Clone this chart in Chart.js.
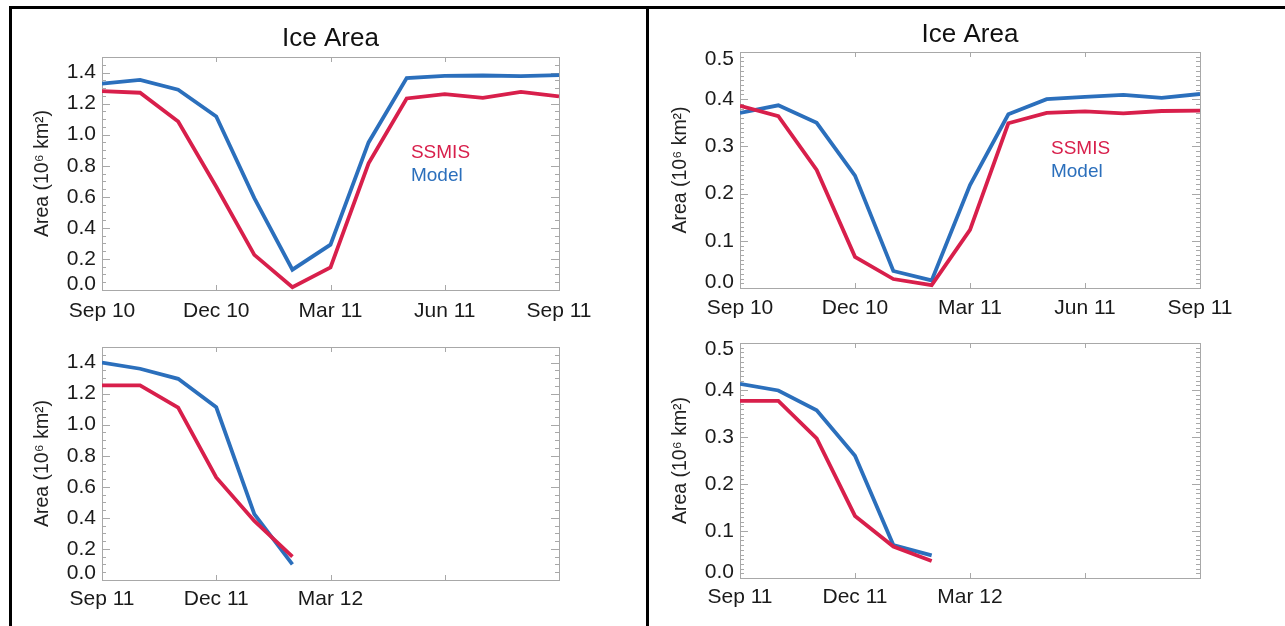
<!DOCTYPE html>
<html>
<head>
<meta charset="utf-8">
<script src="https://cdn.jsdelivr.net/npm/chart.js@4/dist/chart.umd.min.js"></script>
<style>
  html, body { margin: 0; padding: 0; background: #fff; }
  body { width: 1285px; height: 626px; position: relative; overflow: hidden; }
  canvas { position: absolute; left: 0; top: 0; }
  .rule { position: absolute; background: #000; }
</style>
</head>
<body>
<div class="rule" style="left:9px; top:6px; width:1276px; height:3px;"></div>
<div class="rule" style="left:9px; top:6px; width:3px; height:620px;"></div>
<div class="rule" style="left:646px; top:6px; width:3px; height:620px;"></div>
<canvas id="c1" width="1285" height="626"></canvas>
<canvas id="c2" width="1285" height="626"></canvas>
<canvas id="c3" width="1285" height="626"></canvas>
<canvas id="c4" width="1285" height="626"></canvas>
<script>
// ---------- data ----------
const monthIndex = [0, 1, 2, 3, 4, 5, 6, 7, 8, 9, 10, 11, 12];
const xTickPos = [0, 3, 6, 9, 12];
const xLabels2010 = ['Sep 10', 'Dec 10', 'Mar 11', 'Jun 11', 'Sep 11'];
const xLabels2011 = ['Sep 11', 'Dec 11', 'Mar 12', '', ''];

const yTicksBig = [0.0, 0.2, 0.4, 0.6, 0.8, 1.0, 1.2, 1.4];
const yTicksSmall = [0.0, 0.1, 0.2, 0.3, 0.4, 0.5];

// left panel (large region)
const ssmisBig2010 = [1.28, 1.27, 1.085, 0.665, 0.226, 0.018, 0.146, 0.815, 1.233, 1.261, 1.237, 1.276, 1.246];
const modelBig2010 = [1.329, 1.353, 1.289, 1.117, 0.592, 0.131, 0.292, 0.95, 1.364, 1.378, 1.381, 1.377, 1.383];
const ssmisBig2011 = [1.253, 1.253, 1.11, 0.66, 0.38, 0.15];
const modelBig2011 = [1.40, 1.36, 1.295, 1.112, 0.424, 0.10];

// right panel (small region)
const ssmisSmall2010 = [0.386, 0.364, 0.25, 0.066, 0.019, 0.006, 0.123, 0.349, 0.371, 0.374, 0.37, 0.375, 0.376];
const modelSmall2010 = [0.371, 0.387, 0.35, 0.238, 0.036, 0.016, 0.218, 0.368, 0.40, 0.405, 0.409, 0.403, 0.411];
const ssmisSmall2011 = [0.377, 0.377, 0.297, 0.132, 0.067, 0.036];
const modelSmall2011 = [0.413, 0.399, 0.357, 0.26, 0.07, 0.048];

const seriesNames = ['SSMIS', 'Model'];
// ---------- style ----------
const RED = '#d81f4b';
const BLUE = '#2b6fbc';
const FONT = '"Liberation Sans", Arial, Helvetica, sans-serif';
const AXIS_GRAY = '#a8a8a8';
const TICK_SIZE = 21;

const framePlugin = {
  id: 'frame',
  beforeDatasetsDraw(chart, args, opts) {
    const {ctx, chartArea: a, scales} = chart;
    const y = scales.y, x = scales.x;
    ctx.save();
    ctx.strokeStyle = AXIS_GRAY;
    ctx.lineWidth = 1;
    ctx.strokeRect(Math.round(a.left) + 0.5, Math.round(a.top) + 0.5,
                   Math.round(a.right - a.left), Math.round(a.bottom - a.top));
    ctx.beginPath();
    const steps = Math.round((y.max - y.min) / opts.minor);
    for (let i = 0; i <= steps; i++) {
      const v = y.min + i * opts.minor;
      const isMajor = Math.abs(v / opts.major - Math.round(v / opts.major)) < 1e-6;
      const len = isMajor ? 8 : 4;
      const py = Math.round(y.getPixelForValue(v)) + 0.5;
      ctx.moveTo(a.left, py); ctx.lineTo(a.left + len, py);
      ctx.moveTo(a.right, py); ctx.lineTo(a.right - len, py);
    }
    xTickPos.forEach(v => {
      const px = Math.round(x.getPixelForValue(v)) + 0.5;
      ctx.moveTo(px, a.bottom); ctx.lineTo(px, a.bottom - 5);
      ctx.moveTo(px, a.top); ctx.lineTo(px, a.top + 5);
    });
    ctx.stroke();
    ctx.restore();
  },
  afterDatasetsDraw(chart, args, opts) {
    if (!opts.legend) return;
    const {ctx, chartArea: a} = chart;
    ctx.save();
    ctx.font = '19px ' + FONT;
    ctx.textBaseline = 'middle';
    ctx.textAlign = 'left';
    const lx = a.left + (a.right - a.left) * 0.676;
    const ly = a.top + (a.bottom - a.top) * 0.41;
    chart.data.datasets.forEach((ds, i) => {
      ctx.fillStyle = ds.borderColor;
      ctx.fillText(ds.label, lx, ly + i * 23.5);
    });
    ctx.restore();
  }
};

function toPoints(vals) {
  return vals.map((v, i) => ({x: monthIndex[i], y: v}));
}

function makeChart(id, cfg) {
  const W = 1285, H = 626;
  const xAxisH = 40;
  const yTitlePadTop = 8;
  const yTitleSize = 19.5;
  const L = cfg.yTitleX - yTitleSize * 1.2 / 2 - yTitlePadTop;
  const titleSize = 26;
  let padTop = cfg.top;
  let titleOpts = {display: false};
  if (cfg.title) {
    const lh = titleSize * 1.2;
    const ptTop = 6;
    padTop = cfg.titleY - lh / 2 - ptTop;
    const pb = cfg.top - (cfg.titleY + lh / 2);
    titleOpts = {
      display: true, text: cfg.title, fullSize: false, color: '#111',
      font: {family: FONT, size: titleSize, weight: 'normal'},
      padding: {top: ptTop, bottom: pb}
    };
  }
  const yMaxVal = cfg.ymax;
  // labels at the very ends of the axis sit slightly inside the box
  const yLabel = v => {
    const s = v.toFixed(1);
    if (v === 0) return [s, ''];
    if (Math.abs(v - yMaxVal) < 1e-9) return ['', s];
    return s;
  };
  const yFont = ctx => {
    const t = ctx.tick;
    if (t && t.value === 0) return {family: FONT, size: TICK_SIZE, lineHeight: (2 * cfg.lowShift) / TICK_SIZE};
    if (t && Math.abs(t.value - yMaxVal) < 1e-9) return {family: FONT, size: TICK_SIZE, lineHeight: (2 * cfg.topShift) / TICK_SIZE};
    return {family: FONT, size: TICK_SIZE};
  };
  return new Chart(document.getElementById(id), {
    type: 'line',
    data: {
      datasets: [
        {label: seriesNames[0], data: toPoints(cfg.red), borderColor: RED, backgroundColor: RED,
         borderWidth: 3.8, pointRadius: 0, tension: 0, fill: false},
        {label: seriesNames[1], data: toPoints(cfg.blue), borderColor: BLUE, backgroundColor: BLUE,
         borderWidth: 3.8, pointRadius: 0, tension: 0, fill: false}
      ]
    },
    options: {
      responsive: false,
      animation: false,
      devicePixelRatio: 1,
      layout: {padding: {left: L, top: padTop, right: W - cfg.right, bottom: H - cfg.bottom - xAxisH}},
      plugins: {
        legend: {display: false},
        tooltip: {enabled: false},
        title: titleOpts,
        frame: {minor: cfg.minor, major: cfg.major, legend: cfg.legend}
      },
      scales: {
        x: {
          type: 'linear', min: 0, max: 12,
          afterBuildTicks: s => { s.ticks = xTickPos.map(v => ({value: v})); },
          afterFit: s => { s.height = xAxisH; },
          grid: {display: false, drawTicks: false},
          border: {display: false},
          ticks: {
            autoSkip: false, maxRotation: 0, padding: cfg.xPad, color: '#1a1a1a',
            font: {family: FONT, size: TICK_SIZE},
            callback: v => cfg.xLabels[xTickPos.indexOf(v)]
          }
        },
        y: {
          type: 'linear', min: 0, max: cfg.ymax,
          afterBuildTicks: s => { s.ticks = cfg.yTicks.map(v => ({value: v})); },
          afterFit: s => { s.width = cfg.left - L; },
          grid: {display: false, drawTicks: false},
          border: {display: false},
          title: {display: true, text: 'Area (10\u2076 km\u00b2)', color: '#222',
                  font: {family: FONT, size: yTitleSize}, padding: {top: yTitlePadTop, bottom: 0}},
          ticks: {
            padding: 6, color: '#1a1a1a',
            font: yFont,
            callback: yLabel
          }
        }
      }
    },
    plugins: [framePlugin]
  });
}

makeChart('c1', {left: 102, right: 559, top: 57, bottom: 290, title: 'Ice Area', titleY: 39,
  yTitleX: 43, ymax: 1.5, yTicks: yTicksBig, minor: 0.05, major: 0.2, xLabels: xLabels2010, xPad: 9,
  lowShift: 6, topShift: 0, red: ssmisBig2010, blue: modelBig2010, legend: true});
makeChart('c2', {left: 102, right: 559, top: 347, bottom: 580, title: null,
  yTitleX: 43, ymax: 1.5, yTicks: yTicksBig, minor: 0.05, major: 0.2, xLabels: xLabels2011, xPad: 7,
  lowShift: 7, topShift: 0, red: ssmisBig2011, blue: modelBig2011, legend: false});
makeChart('c3', {left: 740, right: 1200, top: 52, bottom: 288, title: 'Ice Area', titleY: 35,
  yTitleX: 681, ymax: 0.5, yTicks: yTicksSmall, minor: 0.01, major: 0.1, xLabels: xLabels2010, xPad: 8,
  lowShift: 6, topShift: 7, red: ssmisSmall2010, blue: modelSmall2010, legend: true});
makeChart('c4', {left: 740, right: 1200, top: 343, bottom: 578, title: null,
  yTitleX: 681, ymax: 0.5, yTicks: yTicksSmall, minor: 0.01, major: 0.1, xLabels: xLabels2011, xPad: 7,
  lowShift: 6, topShift: 6, red: ssmisSmall2011, blue: modelSmall2011, legend: false});
</script>
</body>
</html>
